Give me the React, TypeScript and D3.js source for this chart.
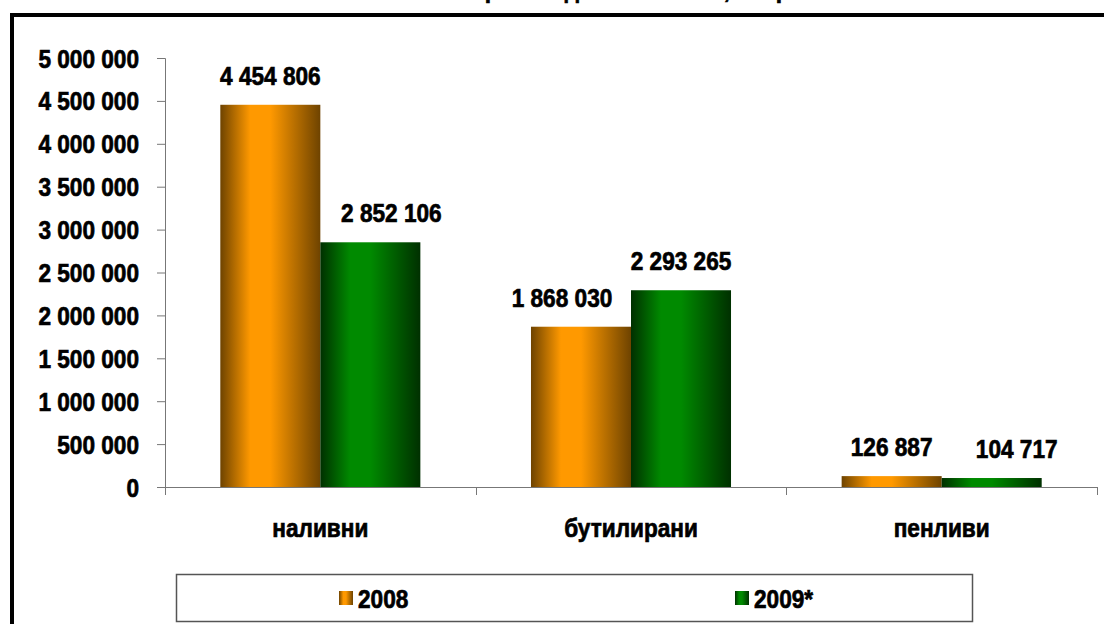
import React, { useRef, useEffect } from 'react';
import * as d3 from 'd3';

const categories = ["наливни", "бутилирани", "пенливи"];
const seriesNames = ["2008", "2009*"];
const values2008 = [4454806, 1868030, 126887];
const values2009 = [2852106, 2293265, 104717];
const yTickValues = [0, 500000, 1000000, 1500000, 2000000, 2500000, 3000000, 3500000, 4000000, 4500000, 5000000];
const title = "Производство на вино, литри";

// horizontal nudges of value labels (Excel moved the ones that would overlap)
const labelNudge = [[0, 21], [-19, 0], [0, 25]];

const App = () => {
    const svgRef = useRef(null);

    useEffect(() => {
        const svg = d3.select(svgRef.current);
        svg.selectAll("*").remove();
        const width = 1104;
        const height = 624;
        const margin = { top: 58, right: 7, bottom: 137, left: 165 };
        const font = "'Liberation Sans', Arial, sans-serif";
        const sx = 0.87;

        const fmt = d3.formatLocale({ decimal: ",", thousands: " ", grouping: [3], currency: ["", ""] }).format(",d");

        const defs = svg.append("defs");
        const grads = [
            { id: "g2008", dark: "#6e4300", bright: "#ff9900" },
            { id: "g2009", dark: "#003000", bright: "#008a00" },
        ];
        grads.forEach(g => {
            const lg = defs.append("linearGradient").attr("id", g.id).attr("x1", "0").attr("x2", "1").attr("y1", "0").attr("y2", "0");
            lg.append("stop").attr("offset", "0%").attr("stop-color", g.dark);
            lg.append("stop").attr("offset", "30%").attr("stop-color", g.bright);
            lg.append("stop").attr("offset", "50%").attr("stop-color", g.bright);
            lg.append("stop").attr("offset", "100%").attr("stop-color", g.dark);
        });

        // condensed heavy bold text
        const label = (g, x, y, txt, anchor = "middle") =>
            g.append("text")
                .attr("transform", `translate(${x},${y}) scale(${sx},1)`)
                .attr("text-anchor", anchor)
                .attr("font-family", font)
                .attr("font-weight", "bold")
                .attr("font-size", 26)
                .attr("fill", "#000")
                .attr("stroke", "#000")
                .attr("stroke-width", 0.7)
                .text(txt);

        // frame: only the left and top sides fall inside the picture
        svg.append("path")
            .attr("d", `M12,${height + 10}V15H${width + 10}`)
            .attr("fill", "none")
            .attr("stroke", "#000")
            .attr("stroke-width", 4);

        // title, cut off by top of the picture as in the original
        label(svg, 636, -2, title);

        const x0 = d3.scaleBand()
            .domain(categories)
            .range([margin.left, width - margin.right]);

        const x1 = d3.scaleBand()
            .domain(seriesNames)
            .range([0, x0.bandwidth()])
            .paddingOuter(0.553);

        const y = d3.scaleLinear()
            .domain([0, 5000000])
            .range([height - margin.bottom, margin.top]);

        const data = categories.map((c, i) => ({ cat: c, i, vals: [values2008[i], values2009[i]] }));

        // y axis
        const yAxis = svg.append("g")
            .attr("transform", `translate(${margin.left},0)`)
            .call(d3.axisLeft(y).tickValues(yTickValues).tickSize(8).tickFormat(() => ""));
        yAxis.selectAll("line, path").attr("stroke", "#777");
        yTickValues.forEach(v => label(svg, 139, y(v) + 9.5, fmt(v), "end"));

        // bars
        const groups = svg.append("g")
            .selectAll("g")
            .data(data)
            .join("g")
            .attr("transform", d => `translate(${x0(d.cat)},0)`);

        groups.selectAll("rect")
            .data(d => d.vals.map((v, j) => ({ key: seriesNames[j], v, j })))
            .join("rect")
            .attr("x", d => x1(d.key))
            .attr("y", d => y(d.v))
            .attr("width", x1.bandwidth())
            .attr("height", d => y(0) - y(d.v))
            .attr("fill", d => `url(#${grads[d.j].id})`);

        groups.each(function (d) {
            const g = d3.select(this);
            d.vals.forEach((v, j) => {
                label(g, x1(seriesNames[j]) + x1.bandwidth() / 2 + labelNudge[d.i][j], y(v) - 20, fmt(v));
            });
        });

        // x axis
        const xAxisG = svg.append("g").attr("stroke", "#777");
        xAxisG.append("line")
            .attr("x1", margin.left - 8).attr("x2", width - margin.right)
            .attr("y1", y(0) + 0.5).attr("y2", y(0) + 0.5);
        const bounds = categories.map(c => x0(c)).concat([x0(categories[categories.length - 1]) + x0.bandwidth()]);
        xAxisG.selectAll("line.tick")
            .data(bounds)
            .join("line")
            .attr("class", "tick")
            .attr("x1", d => Math.round(d) + 0.5).attr("x2", d => Math.round(d) + 0.5)
            .attr("y1", y(0)).attr("y2", y(0) + 8);

        categories.forEach(c => label(svg, x0(c) + x0.bandwidth() / 2, 537, c));

        // legend
        const leg = svg.append("g");
        leg.append("rect")
            .attr("x", 176.5).attr("y", 574.5)
            .attr("width", 796).attr("height", 47)
            .attr("fill", "#fff")
            .attr("stroke", "#555")
            .attr("stroke-width", 1.5);
        const legX = [339, 735];
        seriesNames.forEach((s, j) => {
            leg.append("rect")
                .attr("x", legX[j]).attr("y", 591)
                .attr("width", 14).attr("height", 14)
                .attr("fill", `url(#${grads[j].id})`);
            label(leg, legX[j] + 19, 607.5, s, "start");
        });
    }, []);

    return (
        <svg ref={svgRef} width={1104} height={624}
            style={{ position: "absolute", left: 0, top: 0, background: "#fff" }} />
    );
};

export default App;
